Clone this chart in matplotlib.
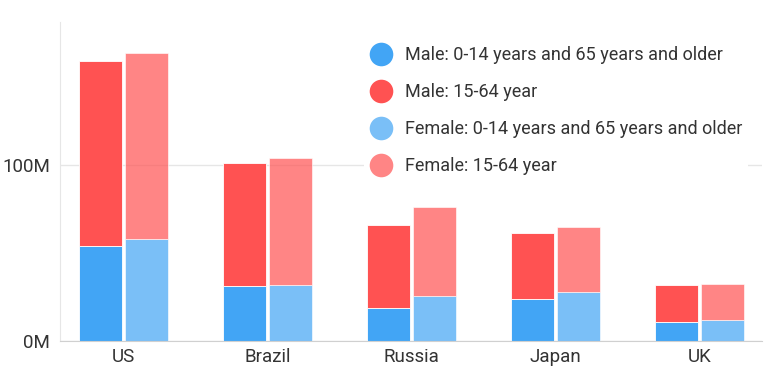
# grouped stacked bars: population by age group, male vs female
import matplotlib
matplotlib.use('Agg')
import matplotlib.pyplot as plt
from matplotlib.lines import Line2D
from matplotlib.ticker import FuncFormatter
import numpy as np

plt.rcParams['font.family'] = ['Roboto', 'DejaVu Sans']

# ------ Data (millions) ------
countries = ['US', 'Brazil', 'Russia', 'Japan', 'UK']
male_young_old = [53.8, 31.3, 18.6, 23.9, 11.0]
male_working = [105.3, 69.8, 47.3, 37.6, 20.8]
female_young_old = [57.6, 32.0, 25.6, 27.7, 12.1]
female_working = [106.0, 72.0, 50.5, 37.1, 20.3]

labels = ['Male: 0-14 years and 65 years and older', 'Male: 15-64 year',
          'Female: 0-14 years and 65 years and older', 'Female: 15-64 year']

blue = '#42A5F5'
red = '#FF5252'
text_col = '#333333'
grid_col = '#E6E6E6'

fig = plt.figure(figsize=(7.7, 3.76), dpi=100)
ax = fig.add_axes([60/770, 1 - 341/376, 702/770, 319/376])

x = np.arange(len(countries))
w = 0.30
off = 0.16

ax.bar(x - off, male_young_old, w, color=blue, edgecolor='white', linewidth=0.6, zorder=2)
ax.bar(x - off, male_working, w, bottom=male_young_old, color=red, edgecolor='white', linewidth=0.6, zorder=2)
ax.bar(x + off, female_young_old, w, color=blue, alpha=0.7, edgecolor='white', linewidth=0.6, zorder=2)
ax.bar(x + off, female_working, w, bottom=female_young_old, color=red, alpha=0.7, edgecolor='white', linewidth=0.6, zorder=2)

ax.set_xlim(-0.441, 4.434)
ax.set_ylim(0, 181)
ax.set_yticks([0, 100])
ax.yaxis.set_major_formatter(FuncFormatter(lambda v, p: f'{int(v)}M'))
ax.set_xticks(x)
ax.set_xticklabels(countries)
ax.tick_params(axis='both', length=0, labelsize=13.5, colors=text_col, pad=5)
ax.tick_params(axis='y', pad=7)

ax.grid(axis='y', color=grid_col, linewidth=1, zorder=0)
ax.set_axisbelow(True)
for s in ['top', 'right']:
    ax.spines[s].set_visible(False)
ax.spines['left'].set_color(grid_col)
ax.spines['bottom'].set_color('#D0D0D0')

handles = [Line2D([], [], linestyle='none', marker='o', markersize=17, markeredgewidth=0,
                  color=c, alpha=a)
           for c, a in [(blue, 1), (red, 1), (blue, 0.7), (red, 0.7)]]
leg = ax.legend(handles, labels, loc='upper left', bbox_to_anchor=(364/770, 1 - 41/376),
                bbox_transform=fig.transFigure,
                frameon=True, facecolor='white', edgecolor='none', framealpha=1, fancybox=False,
                fontsize=13, labelspacing=1.05, handletextpad=0.7,
                handlelength=1.27, borderpad=0.3, borderaxespad=0)
for t in leg.get_texts():
    t.set_color(text_col)

plt.savefig('out.png', dpi=100)
